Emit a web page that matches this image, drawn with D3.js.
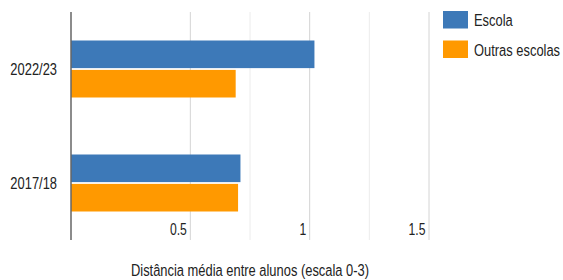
<!DOCTYPE html>
<html>
<head>
<meta charset="utf-8">
<script src="https://cdn.jsdelivr.net/npm/d3@7"></script>
<style>
  body { margin: 0; background: #fff; }
  text { font-family: "Liberation Sans", Arial, sans-serif; fill: #222; }
</style>
</head>
<body>
<svg id="chart" width="563" height="280"></svg>
<script>
var categories = ["2022/23", "2017/18"];
var seriesNames = ["Escola", "Outras escolas"];
var escolaValues = [1.02, 0.71];
var outrasValues = [0.69, 0.70];
var majorTicks = [0.5, 1, 1.5];
var minorTicks = [0.75, 1.25];
var colors = ["#3d79b8", "#ff9900"];

var sx = 0.76; // text in the picture is horizontally squeezed
var svg = d3.select("#chart");
var plotLeft = 71, plotRight = 429, plotTop = 12, plotBottom = 240;

var x = d3.scaleLinear().domain([0, 1.5]).range([plotLeft, plotRight]);
var y = d3.scaleBand().domain(categories).range([plotTop, plotBottom])
    .paddingInner(0.5).paddingOuter(0.25);
var ySub = d3.scaleBand().domain(seriesNames).range([0, y.bandwidth()]).paddingInner(0.06);

// helper for squeezed text
function label(g, px, py, str, size, anchor) {
    g.append("text")
        .attr("transform", "translate(" + px + "," + py + ") scale(" + sx + ",1)")
        .attr("text-anchor", anchor)
        .style("font-size", size + "px")
        .text(str);
}

// gridlines
svg.selectAll(".minor").data(minorTicks).enter().append("line")
    .attr("x1", function(d){ return x(d); }).attr("x2", function(d){ return x(d); })
    .attr("y1", plotTop).attr("y2", plotBottom)
    .attr("stroke", "#ececec").attr("stroke-width", 1);
svg.selectAll(".major").data(majorTicks).enter().append("line")
    .attr("x1", function(d){ return x(d); }).attr("x2", function(d){ return x(d); })
    .attr("y1", plotTop).attr("y2", plotBottom)
    .attr("stroke", "#d4d4d4").attr("stroke-width", 1);

// bars
var rows = categories.map(function(c, i){
    return { cat: c, vals: [escolaValues[i], outrasValues[i]] };
});
var grp = svg.selectAll(".grp").data(rows).enter().append("g")
    .attr("transform", function(d){ return "translate(0," + y(d.cat) + ")"; });
grp.selectAll("rect").data(function(d){
        return d.vals.map(function(v, j){ return { name: seriesNames[j], v: v, j: j }; });
    }).enter().append("rect")
    .attr("x", x(0))
    .attr("y", function(d){ return ySub(d.name); })
    .attr("width", function(d){ return x(d.v) - x(0); })
    .attr("height", ySub.bandwidth())
    .attr("fill", function(d){ return colors[d.j]; });

// axis line
svg.append("line").attr("x1", x(0)).attr("x2", x(0)).attr("y1", plotTop).attr("y2", plotBottom)
    .attr("stroke", "#666").attr("stroke-width", 1.5);

// category labels
categories.forEach(function(c){
    label(svg, 57, y(c) + y.bandwidth() / 2 + 6, c, 17, "end");
});

// tick labels
majorTicks.forEach(function(t){
    label(svg, x(t) - 3.5, 235, d3.format("")(t), 16, "end");
});

// axis title
label(svg, 250, 276, "Distância média entre alunos (escala 0-3)", 17, "middle");

// legend
seriesNames.forEach(function(n, i){
    svg.append("rect").attr("x", 443).attr("y", 11 + i * 29.5)
        .attr("width", 25).attr("height", 17.5).attr("fill", colors[i]);
    label(svg, 474, 26 + i * 29.5, n, 17, "start");
});
</script>
</body>
</html>
